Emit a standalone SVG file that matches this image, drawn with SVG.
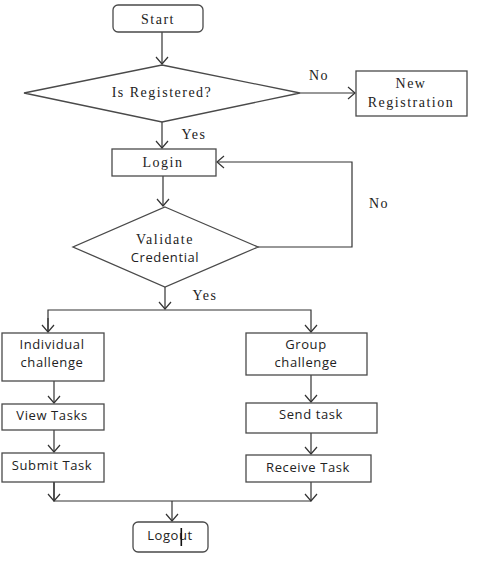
<svg xmlns="http://www.w3.org/2000/svg" width="478" height="564" viewBox="0 0 478 564">
  <defs>
    <marker id="arrow" markerUnits="userSpaceOnUse" markerWidth="10" markerHeight="14" viewBox="0 0 10 14" refX="8" refY="7" orient="auto">
      <path d="M1,1 L8,7 L1,13" fill="none" stroke="#333" stroke-width="1.2"/>
    </marker>
  </defs>
  <style>
    .box { fill: #fff; stroke: #4a4a4a; stroke-width: 1.3; }
    .edge { fill: none; stroke: #333; stroke-width: 1.2; }
    .serif { font-family: "Liberation Serif", "Times New Roman", serif; font-size: 14px; letter-spacing: 1.5px; fill: #222; text-anchor: middle; }
    .sans { font-family: "Open Sans", "Liberation Sans", sans-serif; font-size: 13px; letter-spacing: 0.6px; fill: #222; text-anchor: middle; }
  </style>
  <rect width="478" height="564" fill="#fff"/>

  <!-- connectors -->
  <g id="connectors">
    <path class="edge" d="M162,32 V64" marker-end="url(#arrow)"/>
    <path class="edge" d="M300,93 H355" marker-end="url(#arrow)"/>
    <path class="edge" d="M162,122 V148" marker-end="url(#arrow)"/>
    <path class="edge" d="M163,176 V206" marker-end="url(#arrow)"/>
    <path class="edge" d="M258,247 H352 V162 H217" marker-end="url(#arrow)"/>
    <path class="edge" d="M165,287 V309" marker-end="url(#arrow)"/>
    <path class="edge" d="M48,332 V310 H311 V332" marker-end="url(#arrow)"/>
    <path class="edge" d="M48,318 V332" marker-end="url(#arrow)"/>
    <path class="edge" d="M54,381 V403" marker-end="url(#arrow)"/>
    <path class="edge" d="M54,430 V452" marker-end="url(#arrow)"/>
    <path class="edge" d="M311,375 V402" marker-end="url(#arrow)"/>
    <path class="edge" d="M311,433 V454" marker-end="url(#arrow)"/>
    <path class="edge" d="M54,482 V501 H311" />
    <path class="edge" d="M54,482 V501" marker-end="url(#arrow)"/>
    <path class="edge" d="M311,482 V501" marker-end="url(#arrow)"/>
    <path class="edge" d="M172,501 V521" marker-end="url(#arrow)"/>
    <text class="serif" x="319" y="80">No</text>
    <text class="serif" x="194" y="139">Yes</text>
    <text class="serif" x="379" y="208">No</text>
    <text class="serif" x="205" y="300">Yes</text>
  </g>

  <g id="start">
    <rect class="box" x="113" y="5" width="90" height="27" rx="5"/>
    <text class="serif" x="158" y="24">Start</text>
  </g>

  <g id="is-registered">
    <polygon class="box" points="162,65 300,93 162,122 24,93"/>
    <text class="serif" x="162" y="97">Is Registered?</text>
  </g>

  <g id="new-registration">
    <rect class="box" x="356" y="71" width="111" height="45"/>
    <text class="serif" x="411" y="88">New</text>
    <text class="serif" x="411" y="107">Registration</text>
  </g>

  <g id="login">
    <rect class="box" x="112" y="149" width="104" height="27"/>
    <text class="serif" x="163" y="167">Login</text>
  </g>

  <g id="validate">
    <polygon class="box" points="165,207 258,247 165,287 73,247"/>
    <text class="serif" x="165" y="244">Validate</text>
    <text class="sans" x="165" y="262">Credential</text>
  </g>

  <g id="individual-challenge">
    <rect class="box" x="2" y="333" width="102" height="48"/>
    <text class="sans" x="52" y="349">Individual</text>
    <text class="sans" x="52" y="367">challenge</text>
  </g>

  <g id="group-challenge">
    <rect class="box" x="246" y="333" width="121" height="42"/>
    <text class="sans" x="306" y="349">Group</text>
    <text class="sans" x="306" y="367">challenge</text>
  </g>

  <g id="view-tasks">
    <rect class="box" x="2" y="404" width="102" height="26"/>
    <text class="sans" x="52" y="420">View Tasks</text>
  </g>

  <g id="submit-task">
    <rect class="box" x="2" y="453" width="102" height="29"/>
    <text class="sans" x="52" y="470">Submit Task</text>
  </g>

  <g id="send-task">
    <rect class="box" x="246" y="403" width="131" height="30"/>
    <text class="sans" x="311" y="419">Send task</text>
  </g>

  <g id="receive-task">
    <rect class="box" x="246" y="455" width="125" height="27"/>
    <text class="sans" x="308" y="472">Receive Task</text>
  </g>

  <g id="logout">
    <rect class="box" x="133" y="522" width="75" height="30" rx="5"/>
    <text class="sans" x="170" y="540">Logout</text>
    <rect x="180.5" y="528" width="1.6" height="18" fill="#111"/>
  </g>
</svg>
